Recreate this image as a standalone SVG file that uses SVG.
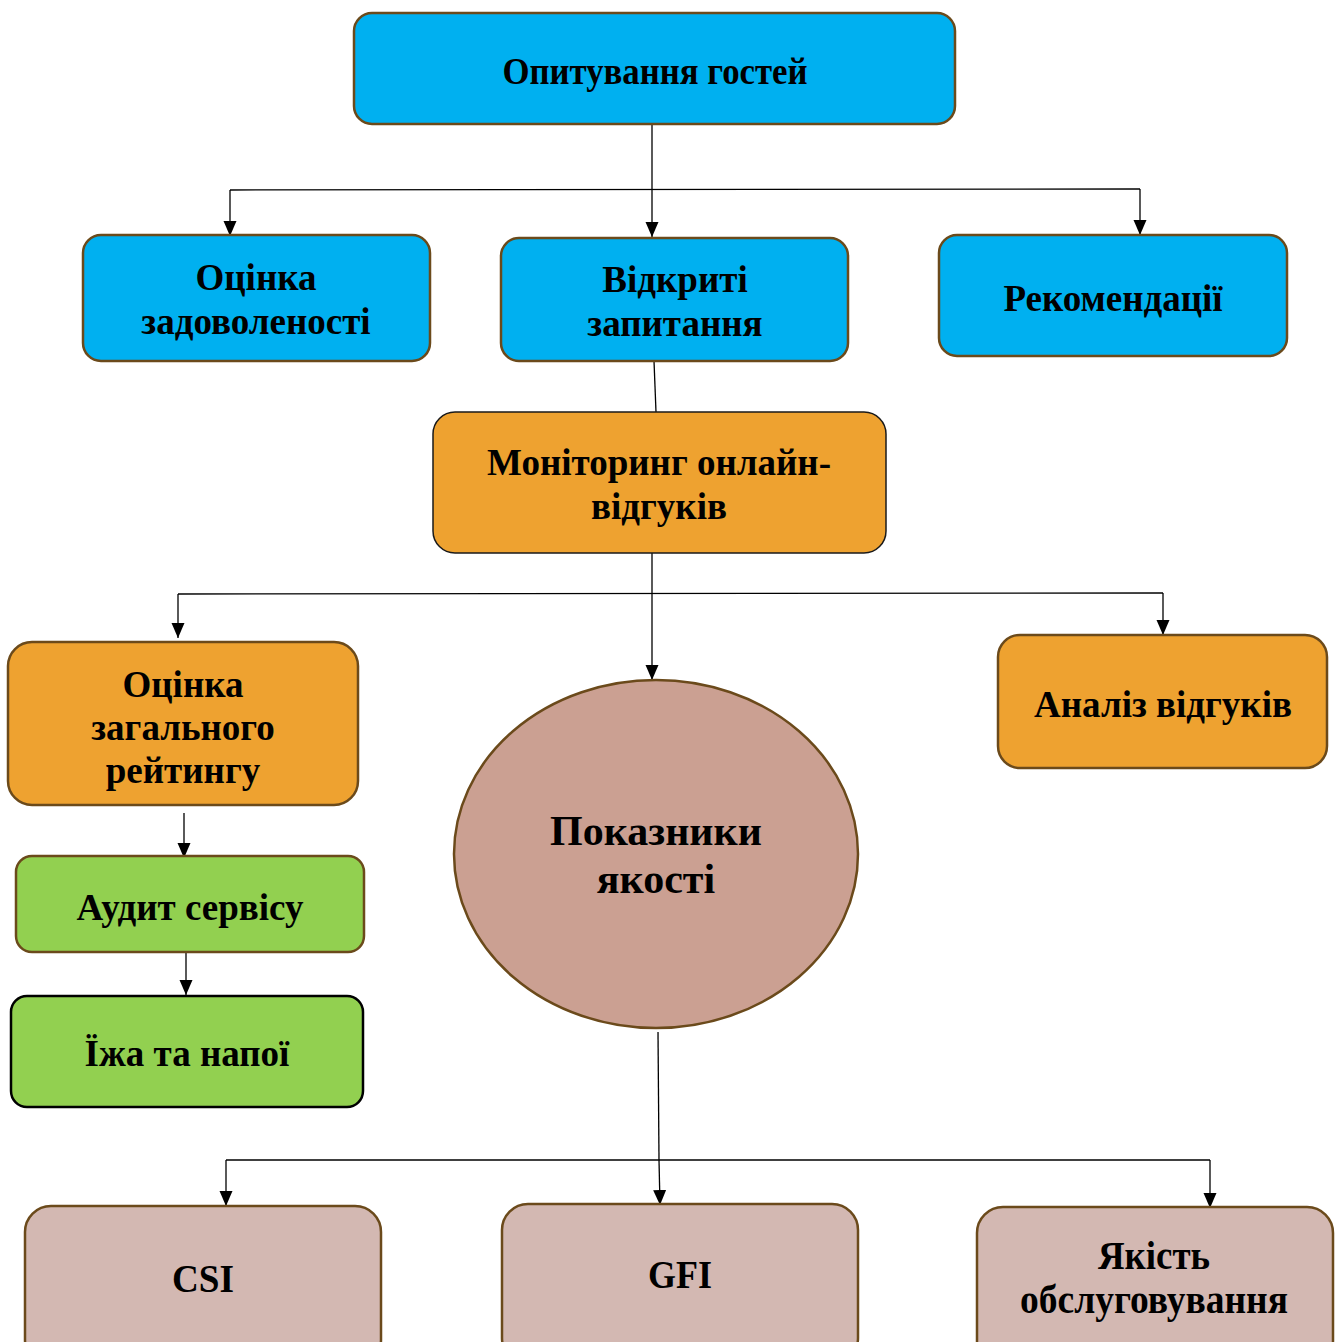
<svg xmlns="http://www.w3.org/2000/svg" width="1342" height="1342" viewBox="0 0 1342 1342">
<defs>
<marker id="ah" markerUnits="userSpaceOnUse" markerWidth="16" markerHeight="14" refX="15" refY="6.5" orient="auto">
<path d="M0,0 L15,6.5 L0,13 z" fill="#000"/>
</marker>
<style>
.t{font-family:"Liberation Serif","Times New Roman",serif;font-weight:bold;font-size:37px;fill:#000;text-anchor:middle}
.blue{fill:#00B0F0;stroke:#6B4A1B;stroke-width:2.5}
.orange{fill:#EEA230;stroke:#6B4A1B;stroke-width:2.5}
.green{fill:#92D050;stroke:#6B4A1B;stroke-width:2.5}
.pink{fill:#D3B8B2;stroke:#6B4A1B;stroke-width:2.5}
.c{fill:none;stroke:#000;stroke-width:1.3}
.ca{fill:none;stroke:#000;stroke-width:1.3;marker-end:url(#ah)}
</style>
</defs>
<rect width="1342" height="1342" fill="#fff"/>
<g id="connectors">
<line class="c" x1="652" y1="124" x2="652" y2="190"/>
<line class="ca" x1="652" y1="190" x2="652" y2="237"/>
<line class="c" x1="230" y1="190" x2="1140" y2="189"/>
<line class="ca" x1="230" y1="190" x2="230" y2="236"/>
<line class="ca" x1="1140" y1="189" x2="1140" y2="235"/>
<line class="c" x1="654" y1="361" x2="656" y2="412"/>
<line class="ca" x1="652" y1="553" x2="652" y2="680"/>
<line class="c" x1="178" y1="594" x2="1163" y2="593"/>
<line class="ca" x1="178" y1="594" x2="178" y2="638"/>
<line class="ca" x1="1163" y1="593" x2="1163" y2="635"/>
<line class="ca" x1="184" y1="813" x2="184" y2="858"/>
<line class="ca" x1="186" y1="950" x2="186" y2="995"/>
<line class="c" x1="658" y1="1032" x2="659" y2="1160"/>
<line class="ca" x1="659" y1="1160" x2="660" y2="1205"/>
<line class="c" x1="226" y1="1160" x2="1210" y2="1160"/>
<line class="ca" x1="226" y1="1160" x2="226" y2="1206"/>
<line class="ca" x1="1210" y1="1160" x2="1210" y2="1208"/>
</g>
<g id="n-survey">
<rect class="blue" x="354" y="13" width="601" height="111" rx="18"/>
<text class="t" x="655" y="84" textLength="305" lengthAdjust="spacingAndGlyphs" style="font-size:38px">Опитування гостей</text>
</g>
<g id="n-satisfaction">
<rect class="blue" x="83" y="235" width="347" height="126" rx="18"/>
<text class="t" x="256" y="290">Оцінка</text>
<text class="t" x="256" y="334">задоволеності</text>
</g>
<g id="n-open">
<rect class="blue" x="501" y="238" width="347" height="123" rx="18"/>
<text class="t" x="675" y="292">Відкриті</text>
<text class="t" x="675" y="336">запитання</text>
</g>
<g id="n-recommend">
<rect class="blue" x="939" y="235" width="348" height="121" rx="18"/>
<text class="t" x="1113" y="311">Рекомендації</text>
</g>
<g id="n-monitoring">
<rect x="433" y="412" width="453" height="141" rx="22" fill="#EEA230" stroke="#1a1a1a" stroke-width="1.5"/>
<text class="t" x="659" y="475">Моніторинг онлайн-</text>
<text class="t" x="659" y="519">відгуків</text>
</g>
<g id="n-rating">
<rect class="orange" x="8" y="642" width="350" height="163" rx="24"/>
<text class="t" x="183" y="697">Оцінка</text>
<text class="t" x="183" y="740">загального</text>
<text class="t" x="183" y="783">рейтингу</text>
</g>
<g id="n-audit">
<rect class="green" x="16" y="856" width="348" height="96" rx="16"/>
<text class="t" x="190" y="920">Аудит сервісу</text>
</g>
<g id="n-food">
<rect x="11" y="996" width="352" height="111" rx="16" fill="#92D050" stroke="#000" stroke-width="2.5"/>
<text class="t" x="187" y="1066">Їжа та напої</text>
</g>
<g id="n-analysis">
<rect class="orange" x="998" y="635" width="329" height="133" rx="22"/>
<text class="t" x="1163" y="717">Аналіз відгуків</text>
</g>
<g id="n-indicators">
<ellipse cx="656" cy="854" rx="202" ry="174" fill="#CBA092" stroke="#6B4A1B" stroke-width="2.5"/>
<text class="t" x="656" y="845" style="font-size:42px">Показники</text>
<text class="t" x="656" y="893" style="font-size:42px">якості</text>
</g>
<g id="n-csi">
<rect class="pink" x="25" y="1206" width="356" height="160" rx="26"/>
<text class="t" x="203" y="1292" textLength="62" lengthAdjust="spacingAndGlyphs" style="font-size:40px">CSI</text>
</g>
<g id="n-gfi">
<rect class="pink" x="502" y="1204" width="356" height="160" rx="26"/>
<text class="t" x="680" y="1288" textLength="64" lengthAdjust="spacingAndGlyphs" style="font-size:40px">GFI</text>
</g>
<g id="n-service">
<rect class="pink" x="977" y="1207" width="356" height="160" rx="26"/>
<text class="t" x="1154" y="1269" textLength="112" lengthAdjust="spacingAndGlyphs" style="font-size:40px">Якість</text>
<text class="t" x="1154" y="1313" textLength="268" lengthAdjust="spacingAndGlyphs" style="font-size:40px">обслуговування</text>
</g>
</svg>
